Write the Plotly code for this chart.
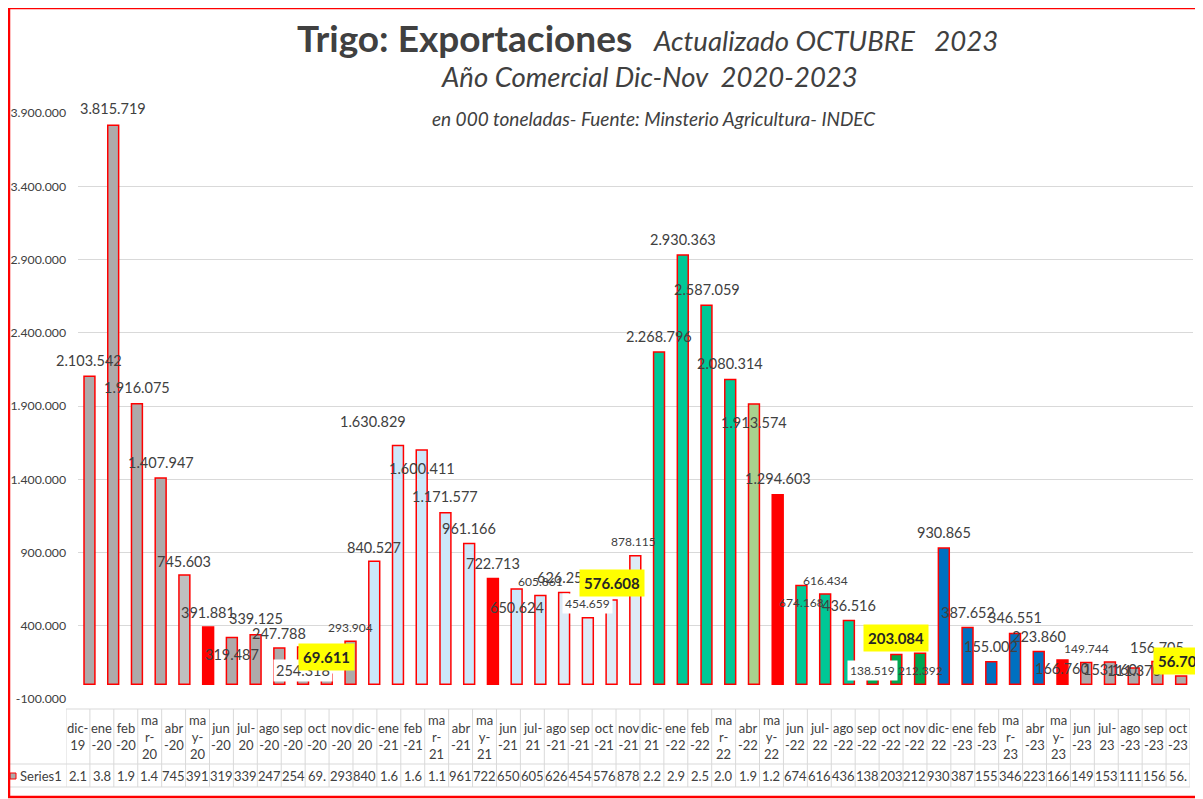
import plotly.graph_objects as go

# ---------------- data ----------------
categories = ["dic-19", "ene-20", "feb-20", "mar-20", "abr-20", "may-20", "jun-20", "jul-20",
              "ago-20", "sep-20", "oct-20", "nov-20", "dic-20", "ene-21", "feb-21", "mar-21",
              "abr-21", "may-21", "jun-21", "jul-21", "ago-21", "sep-21", "oct-21", "nov-21",
              "dic-21", "ene-22", "feb-22", "mar-22", "abr-22", "may-22", "jun-22", "jul-22",
              "ago-22", "sep-22", "oct-22", "nov-22", "dic-22", "ene-23", "feb-23", "mar-23",
              "abr-23", "may-23", "jun-23", "jul-23", "ago-23", "sep-23", "oct-23"]

values = [2103542, 3815719, 1916075, 1407947, 745603, 391881, 319487, 339125,
          247788, 254318, 69611, 293904, 840527, 1630829, 1600411, 1171577,
          961166, 722713, 650624, 605861, 626250, 454659, 576608, 878115,
          2268796, 2930363, 2587059, 2080314, 1913574, 1294603, 674168, 616434,
          436516, 138519, 203084, 212392, 930865, 387652, 155002, 346551,
          223860, 166760, 149744, 153160, 111370, 156705, 56700]

y_ticks = [-100000, 400000, 900000, 1400000, 1900000, 2400000, 2900000, 3400000, 3900000]

series_name = "Series1"

# ---------------- styles ----------------
GRAY, LGRAY, RED = "#AEAAAA", "#BFBFBF", "#FF0000"
LBLUE, PBLUE = "#CCE8FA", "#DDEBF7"
TEAL, LGREEN, GREEN, BLUE = "#00C896", "#A9D18E", "#00A650", "#0070C0"

bar_colors = ([GRAY] * 4 + [LGRAY, RED] + [GRAY] * 6 +
              [LBLUE] * 5 + [RED] + [LBLUE] * 2 + [PBLUE] * 4 +
              [TEAL] * 4 + [LGREEN, RED] + [TEAL] * 3 + [GREEN] * 3 +
              [BLUE] * 5 + [RED] + [GRAY] * 5)

# label offset (px, up from bar top) for each bar label
label_dy = [16, 17, 16, 16, 14, 14, -17, 16, 15, -23, 17, 14,
            14, 24, -19, 16, 15, 15, -18, 14, 15, 14, 17, 14,
            15, 16, 16, 16, -18, 16, -17, 14, 15, -6, 17, -17,
            15, 15, 15, 16, 15, -9, 14, -8, -2, 14, 15]
label_dx = {13: -25, 23: -2}
small_labels = {11, 19, 21, 23, 30, 31, 33, 35, 42}
white_labels = {9, 21, 33}
yellow_labels = {10, 22, 34, 46}

FONT = "Lato, 'Open Sans', sans-serif"
TXT = "#404040"

# page offset (browser body margin)
OFF = 8
W_FIG, H_FIG = 1203, 799
# plot area in page pixels: x 77.6..1193, y 113..699
PLOT_X0, PLOT_X1, PLOT_Y0, PLOT_Y1 = 66, 1193, 113, 699
L, T = PLOT_X0 - OFF, PLOT_Y0 - OFF
R, B = W_FIG - (PLOT_X1 - OFF), H_FIG - (PLOT_Y1 - OFF)
PW, PH = W_FIG - L - R, H_FIG - T - B


def px_x(px):
    return (px - PLOT_X0) / PW


def px_y(py):
    return (PLOT_Y1 - py) / PH


def fmt(v):
    s = f"{abs(int(v)):,}".replace(",", ".")
    return ("-" if v < 0 else "") + s


def wrap(cat):
    m, yy = cat.split("-")
    if m in ("dic", "jul"):
        return f"{m}-<br>{yy}"
    if m in ("mar", "may"):
        return f"ma<br>{m[2]}-<br>{yy}"
    return f"{m}<br>-{yy}"


fig = go.Figure()
fig.add_trace(go.Bar(
    x=categories, y=values, name=series_name,
    marker=dict(color=bar_colors, line=dict(color=RED, width=1.5)),
    showlegend=False, hoverinfo="x+y",
))
# empty helper trace so the data-table axis exists
fig.add_trace(go.Scatter(x=[], y=[], xaxis="x2", yaxis="y2", showlegend=False))

annotations = []
# bar labels
for i, (c, v) in enumerate(zip(categories, values)):
    a = dict(x=c, y=v, xref="x", yref="y", text=fmt(v), showarrow=False,
             yanchor="middle", xanchor="center", yshift=label_dy[i],
             xshift=label_dx.get(i, 0),
             font=dict(family=FONT, size=12 if i in small_labels else 14.5, color=TXT))
    if i in white_labels:
        a.update(bgcolor="white", borderpad=2)
    if i in yellow_labels:
        a.update(text=f"<b>{fmt(v)}</b>", bgcolor="#FFFF00", borderpad=4,
                 font=dict(family=FONT, size=15, color="#262626"))
    annotations.append(a)

# titles
annotations += [
    dict(xref="paper", yref="paper", x=px_x(634), y=px_y(38), xanchor="right", yanchor="middle",
         text="<b>Trigo: Exportaciones</b>", showarrow=False,
         font=dict(family=FONT, size=37, color=TXT)),
    dict(xref="paper", yref="paper", x=px_x(651), y=px_y(40), xanchor="left", yanchor="middle",
         text="<i>Actualizado OCTUBRE\u00a0\u00a0\u00a02023</i>", showarrow=False,
         font=dict(family=FONT, size=27.6, color=TXT)),
    dict(xref="paper", yref="paper", x=px_x(649), y=px_y(77), xanchor="center", yanchor="middle",
         text="<i>Año Comercial Dic-Nov\u00a0\u00a02020-2023</i>", showarrow=False,
         font=dict(family=FONT, size=27.5, color=TXT)),
    dict(xref="paper", yref="paper", x=px_x(654), y=px_y(118), xanchor="center", yanchor="middle",
         text="<i>en 000 toneladas- Fuente: Minsterio Agricultura- INDEC</i>", showarrow=False,
         font=dict(family=FONT, size=19, color=TXT)),
]

# data table
for i, (c, v) in enumerate(zip(categories, values)):
    annotations.append(dict(x=i, y=px_y(736.5), xref="x2", yref="paper", text=wrap(c),
                            showarrow=False, yanchor="middle", xanchor="center", align="center",
                            font=dict(family=FONT, size=13, color=TXT)))
    annotations.append(dict(x=i, y=px_y(776), xref="x2", yref="paper", text=fmt(v)[:3],
                            showarrow=False, yanchor="middle", xanchor="center",
                            font=dict(family=FONT, size=13, color=TXT)))
annotations.append(dict(x=px_x(18), y=px_y(776), xref="paper", yref="paper", text=series_name,
                        showarrow=False, xanchor="left", yanchor="middle",
                        font=dict(family=FONT, size=13, color=TXT)))

LINE = "#D9D9D9"
shapes = []
shapes.append(dict(type="line", xref="paper", yref="paper", x0=px_x(66), x1=px_x(1190),
                   y0=px_y(709), y1=px_y(709), line=dict(color=LINE, width=1)))
for yy in (764, 787):
    shapes.append(dict(type="line", xref="paper", yref="paper", x0=px_x(9), x1=px_x(1190),
                       y0=px_y(yy), y1=px_y(yy), line=dict(color=LINE, width=1)))
for k in range(len(categories) + 1):
    shapes.append(dict(type="line", xref="x2", yref="paper", x0=k - 0.5, x1=k - 0.5,
                       y0=px_y(709), y1=px_y(787), line=dict(color=LINE, width=1)))
# legend key
shapes.append(dict(type="rect", xref="paper", yref="paper", x0=px_x(10), x1=px_x(16),
                   y0=px_y(779), y1=px_y(773), fillcolor=GRAY, line=dict(color=RED, width=1)))
# outer border
shapes.append(dict(type="rect", xref="paper", yref="paper", x0=px_x(9), x1=px_x(1225),
                   y0=px_y(797), y1=px_y(8), line=dict(color=RED, width=2.5),
                   fillcolor="rgba(0,0,0,0)"))

fig.update_layout(
    width=W_FIG, height=H_FIG,
    margin=dict(l=L, r=R, t=T, b=B, autoexpand=False),
    paper_bgcolor="white", plot_bgcolor="rgba(0,0,0,0)",
    bargap=0.54,
    font=dict(family=FONT, color=TXT),
    xaxis=dict(domain=[px_x(77.6), 1], range=[-0.5, len(categories) - 0.5],
               showticklabels=False, showgrid=False, zeroline=False, showline=False, ticks=""),
    yaxis=dict(range=[y_ticks[0], y_ticks[-1]], tickvals=y_ticks,
               ticktext=[fmt(t) for t in y_ticks], showgrid=True, gridcolor=LINE, gridwidth=1,
               zeroline=False, showline=False, ticks="outside", ticklen=8,
               tickcolor="rgba(0,0,0,0)",
               tickfont=dict(family=FONT, size=12.3, color=TXT)),
    xaxis2=dict(domain=[0, px_x(1190)], range=[-0.5, len(categories) - 0.5], anchor="y2",
                visible=False),
    yaxis2=dict(domain=[0, 0.01], range=[0, 1], anchor="x2", visible=False),
    annotations=annotations, shapes=shapes,
)

fig.write_html("out.html")
